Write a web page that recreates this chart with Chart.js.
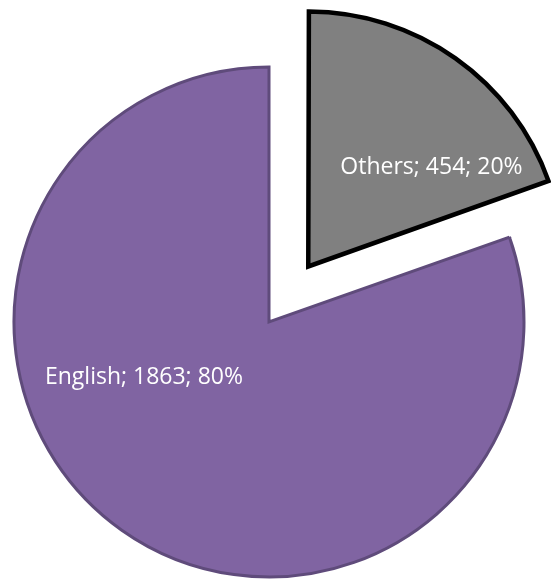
<!DOCTYPE html>
<html lang="en">
<head>
    <meta charset="UTF-8">
    <title>Languages</title>
    <script src="https://cdn.jsdelivr.net/npm/chart.js"></script>
    <style>
        html, body { margin: 0; padding: 0; background: #fff; }
        #wrap { width: 551px; height: 583px; }
    </style>
</head>
<body>
    <div id="wrap"><canvas id="pieChart"></canvas></div>

    <script>
        // Data
        const labels = ['Others', 'English'];
        const counts = [454, 1863];
        const percents = [20, 80];

        // how far each slice is pulled out, in px
        const explode = [68, 0];

        // Label placement: fraction along the slice angle, fraction of radius
        const labelPos = [
            { along: 0.726, r: 0.62 },
            { along: 0.606, r: 0.537 }
        ];

        // Chart.js draws arc offset as offset/4 and also grows the radius a bit,
        // so pass 4x and pull the radius back to match the other slice
        const fixExplode = {
            id: 'fixExplode',
            beforeDatasetsDraw(chart) {
                const meta = chart.getDatasetMeta(0);
                meta.data.forEach((arc, i) => {
                    if (!explode[i]) return;
                    const circ = arc.endAngle - arc.startAngle;
                    const fix = 1 - Math.sin(Math.min(Math.PI, circ));
                    arc.outerRadius = chart.options.radius - explode[i] * fix;
                });
            }
        };

        const sliceLabels = {
            id: 'sliceLabels',
            afterDatasetsDraw(chart) {
                const ctx = chart.ctx;
                const meta = chart.getDatasetMeta(0);
                ctx.save();
                ctx.fillStyle = '#ffffff';
                ctx.font = '23px "Open Sans"';
                ctx.textAlign = 'center';
                ctx.textBaseline = 'middle';
                meta.data.forEach((arc, i) => {
                    const mid = (arc.startAngle + arc.endAngle) / 2;
                    const cx = arc.x + Math.cos(mid) * explode[i];
                    const cy = arc.y + Math.sin(mid) * explode[i];
                    const a = arc.startAngle + labelPos[i].along * (arc.endAngle - arc.startAngle);
                    const r = chart.options.radius * labelPos[i].r;
                    const text = labels[i] + '; ' + counts[i] + '; ' + percents[i] + '%';
                    ctx.fillText(text, cx + Math.cos(a) * r, cy + Math.sin(a) * r);
                });
                ctx.restore();
            }
        };

        new Chart(document.getElementById('pieChart'), {
            type: 'pie',
            data: {
                labels: labels,
                datasets: [{
                    data: counts,
                    backgroundColor: ['#808080', '#8064a2'],
                    borderColor: ['#000000', '#5f4b7b'],
                    borderWidth: [4.5, 3],
                    borderJoinStyle: 'miter',
                    offset: explode.map(v => v * 4)
                }]
            },
            options: {
                responsive: true,
                maintainAspectRatio: false,
                animation: false,
                events: [],
                radius: 255,
                layout: { padding: { left: 0, right: 13, top: 61, bottom: 0 } },
                plugins: {
                    legend: { display: false },
                    tooltip: { enabled: false }
                }
            },
            plugins: [fixExplode, sliceLabels]
        });
    </script>
</body>
</html>
